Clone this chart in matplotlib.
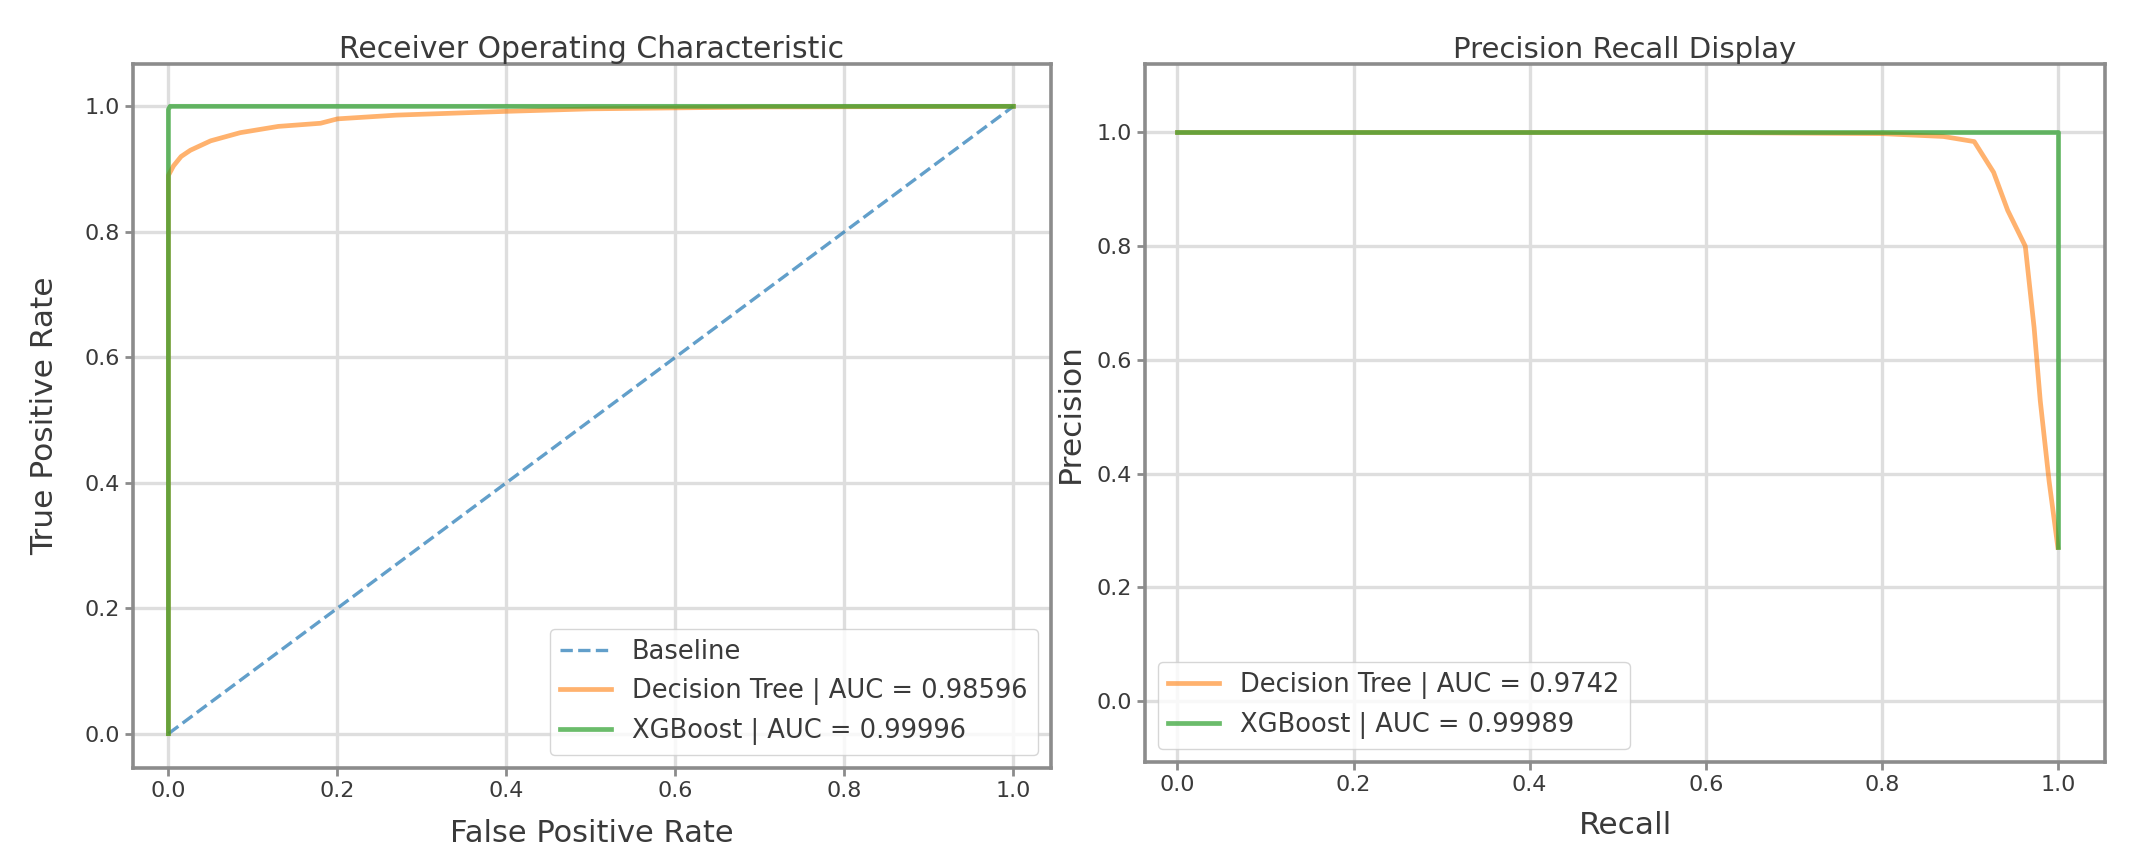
import numpy as np
import matplotlib.pyplot as plt

# ROC curves
base_x = [0.0, 1.0]
base_y = [0.0, 1.0]

dt_fpr = [0.0, 0.0, 0.006, 0.015, 0.026, 0.05, 0.085, 0.13, 0.18, 0.2, 0.27, 0.4, 0.5, 0.7, 1.0]
dt_tpr = [0.0, 0.89, 0.905, 0.92, 0.93, 0.945, 0.958, 0.968, 0.973, 0.98, 0.986, 0.992, 0.996, 0.999, 1.0]

xgb_fpr = [0.0, 0.0, 0.002, 1.0]
xgb_tpr = [0.0, 0.995, 1.0, 1.0]

# precision-recall curves
dt_rec = [0.0, 0.6, 0.8, 0.87, 0.905, 0.927, 0.943, 0.963, 0.973, 0.98, 0.99, 1.0]
dt_prec = [1.0, 1.0, 0.998, 0.993, 0.984, 0.93, 0.863, 0.80, 0.657, 0.528, 0.387, 0.27]

xgb_rec = [0.0, 0.99, 1.0, 1.0]
xgb_prec = [1.0, 1.0, 1.0, 0.27]

roc_labels = ["Baseline", "Decision Tree | AUC = 0.98596", "XGBoost | AUC = 0.99996"]
pr_labels = ["Decision Tree | AUC = 0.9742", "XGBoost | AUC = 0.99989"]

ticks = [0.0, 0.2, 0.4, 0.6, 0.8, 1.0]
spine_c = "#8c8c8c"
text_c = "#3a3a3a"

fig = plt.figure(figsize=(21.44, 8.46), dpi=100)
ax1 = fig.add_axes([0.062, 0.092, 0.428, 0.832])
ax2 = fig.add_axes([0.534, 0.099, 0.448, 0.825])


def style(ax):
    ax.grid(True, color="#dedede", linewidth=2.4)
    ax.set_axisbelow(True)
    for s in ax.spines.values():
        s.set_color(spine_c)
        s.set_linewidth(2.6)
    ax.tick_params(labelsize=16, colors=spine_c, labelcolor=text_c, length=6, width=2)
    ax.set_xticks(ticks)
    ax.set_yticks(ticks)


ax1.plot(base_x, base_y, "--", color="tab:blue", lw=2.4, alpha=0.7, label=roc_labels[0])
ax1.plot(dt_fpr, dt_tpr, color="tab:orange", lw=3.4, alpha=0.6, label=roc_labels[1])
ax1.plot(xgb_fpr, xgb_tpr, color="tab:green", lw=3.4, alpha=0.7, label=roc_labels[2])
ax1.set_xlim(-0.042, 1.044)
ax1.set_ylim(-0.055, 1.067)
style(ax1)
ax1.set_title("Receiver Operating Characteristic", fontsize=21.5, color=text_c, pad=4)
ax1.set_xlabel("False Positive Rate", fontsize=22, color=text_c, labelpad=13)
ax1.set_ylabel("True Positive Rate", fontsize=22.5, color=text_c, labelpad=18)
ax1.legend(loc="lower right", fontsize=18.5, labelcolor=text_c, framealpha=0.8)

ax2.plot(dt_rec, dt_prec, color="tab:orange", lw=3.4, alpha=0.6, label=pr_labels[0])
ax2.plot(xgb_rec, xgb_prec, color="tab:green", lw=3.4, alpha=0.7, label=pr_labels[1])
ax2.set_xlim(-0.037, 1.054)
ax2.set_ylim(-0.108, 1.12)
style(ax2)
ax2.set_title("Precision Recall Display", fontsize=21, color=text_c, pad=4)
ax2.set_xlabel("Recall", fontsize=22.5, color=text_c, labelpad=11)
ax2.set_ylabel("Precision", fontsize=22.5, color=text_c, labelpad=8)
ax2.legend(loc="lower left", fontsize=18.5, labelcolor=text_c, framealpha=0.8)

fig.savefig("out.png", dpi=100)
